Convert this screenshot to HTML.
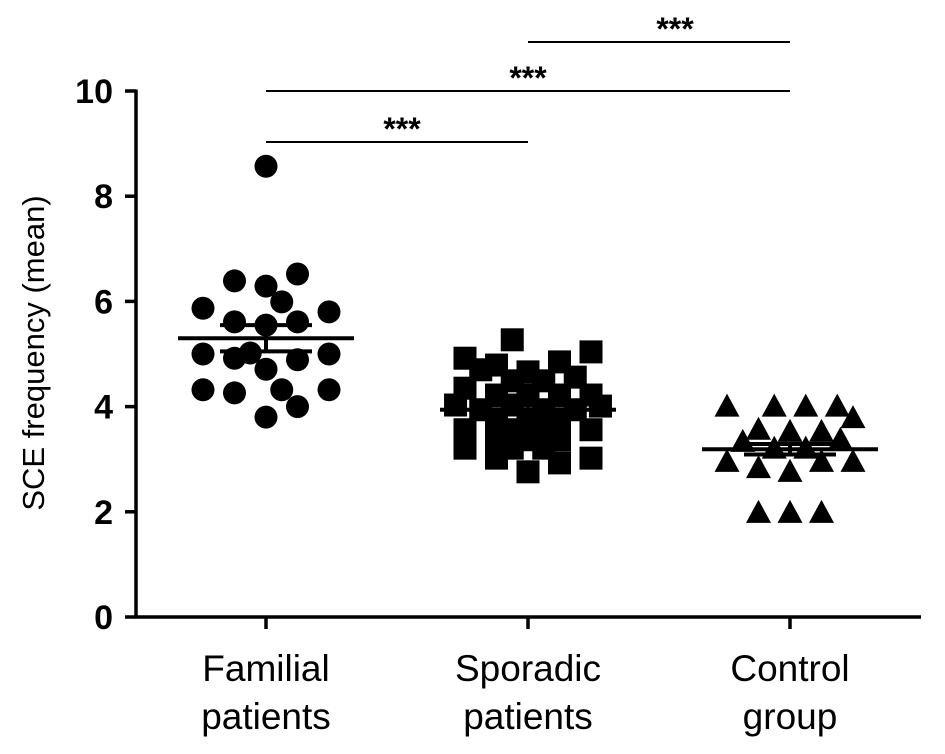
<!DOCTYPE html>
<html><head><meta charset="utf-8"><style>
body{margin:0;background:#fff}
svg{display:block;font-family:"Liberation Sans",Arial,sans-serif}
</style></head><body>
<svg id="chart" width="945" height="754">
<g id="axes"></g><g id="marks"></g><g id="sig"></g>
<text transform="translate(44,353) rotate(-90)" text-anchor="middle" font-size="31">SCE frequency (mean)</text>
</svg>
<script>
const categories=[["Familial","patients"],["Sporadic","patients"],["Control","group"]];
const yTicks=[0,2,4,6,8,10];
const familialVals=[8.57,6.39,6.29,6.52,5.99,5.87,5.80,5.61,5.55,5.61,5.0,4.92,5.02,4.89,5.0,4.71,4.32,4.26,4.32,4.32,4.0,3.8];
const familialCols=[0,-1,0,1,0.5,-2,2,-1,0,1,-2,-1,-0.5,1,2,0,-2,-1,0.5,2,1,0];
const sporadicVals=[5.27,4.92,5.04,4.79,4.85,4.66,4.70,4.56,4.49,4.49,4.35,4.22,4.22,4.22,4.22,4.03,4.01,3.94,4.03,3.94,3.94,3.75,3.75,3.75,3.56,3.56,3.61,3.56,3.37,3.37,3.37,3.21,3.21,3.21,3.02,2.93,3.02,2.76];
const sporadicCols=[-0.5,-2,2,-1,1,0,-1.5,1.5,-0.5,0.5,-2,-1,0,1,2,-2.3,2.3,-1.5,-0.5,0.5,1.5,-1,0,1,-2,-0.5,0.5,2,-1,0,1,-2,-0.5,0.5,-1,1,2,0];
const controlVals=[4.0,4.0,4.0,4.0,3.78,3.56,3.52,3.52,3.33,3.37,2.95,2.83,2.76,2.95,2.95,1.98,1.98,1.98,3.2,3.2];
const controlCols=[-2,-0.5,0.5,1.5,2,-1,0,1,-1.5,1.6,-2,-1,0,1,2,-1,0,1,-0.5,0.5];
const means=[5.30,3.94,3.19];
const sems=[0.25,0.08,0.1];
const sigPairs=[[0,1],[0,2],[1,2]];
const sigLabels=["***","***","***"];

const NS="http://www.w3.org/2000/svg";
const y=v=>617-v*52.6;
const x=i=>266+i*262;
const colW=31.5;
function mk(tag,attrs,parent){const e=document.createElementNS(NS,tag);for(const k in attrs)e.setAttribute(k,attrs[k]);document.getElementById(parent).appendChild(e);return e;}
let e=mk("line",{x1:136,y1:y(10)-1.5,x2:136,y2:618.5,stroke:"#000","stroke-width":3.5},"axes");


e=mk("line",{x1:135,y1:617,x2:921,y2:617,stroke:"#000","stroke-width":3.5},"axes");


yTicks.forEach(t=>{
 let l=mk("line",{x1:125,y1:y(t),x2:136,y2:y(t),stroke:"#000","stroke-width":3.5},"axes");
 
 
 let tx=mk("text",{x:113,y:y(t)+12,"text-anchor":"end","font-size":34,"font-weight":"bold"},"axes");
 tx.textContent=t;
 
 
});
categories.forEach((c,i)=>{
 let l=mk("line",{x1:x(i),y1:617,x2:x(i),y2:629,stroke:"#000","stroke-width":3.5},"axes");
 
 
 c.forEach((w,j)=>{
  let tx=mk("text",{x:x(i),y:681+j*48,"text-anchor":"middle","font-size":37},"axes");
  tx.textContent=w;
  
  
 });
});
familialVals.forEach((v,k)=>{
 let m=mk("circle",{cx:x(0)+familialCols[k]*colW,cy:y(v),r:11.5,fill:"#000"},"marks");
 
 
});
sporadicVals.forEach((v,k)=>{
 let m=mk("rect",{x:x(1)+sporadicCols[k]*colW-11.5,y:y(v)-11.5,width:23,height:23,fill:"#000"},"marks");
 
 
});
controlVals.forEach((v,k)=>{
 const cx=x(2)+controlCols[k]*colW,cy=y(v);
 let m=mk("polygon",{points:`${cx},${cy-13} ${cx-12.5},${cy+10} ${cx+12.5},${cy+10}`,fill:"#000"},"marks");
 
 
});
means.forEach((m,i)=>{
 let l=mk("line",{x1:x(i)-88,y1:y(m),x2:x(i)+88,y2:y(m),stroke:"#000","stroke-width":4},"marks");
 
 
 let s=mk("path",{d:`M${x(i)} ${y(m+sems[i])}V${y(m-sems[i])}M${x(i)-46} ${y(m+sems[i])}H${x(i)+46}M${x(i)-46} ${y(m-sems[i])}H${x(i)+46}`,stroke:"#000","stroke-width":4,fill:"none"},"marks");
 
 
});
const sigY=[142,91,42];
sigPairs.forEach((p,k)=>{
 let l=mk("line",{x1:x(p[0]),y1:sigY[k],x2:x(p[1]),y2:sigY[k],stroke:"#000","stroke-width":2},"sig");
 
 
 let t=mk("text",{x:(x(p[0])+x(p[1]))/2+(k==0?5:k==2?16:0),y:sigY[k]-2,"text-anchor":"middle","font-size":32,"font-weight":"bold"},"sig");
 t.textContent=sigLabels[k];
 
 
});
</script>
</body></html>
